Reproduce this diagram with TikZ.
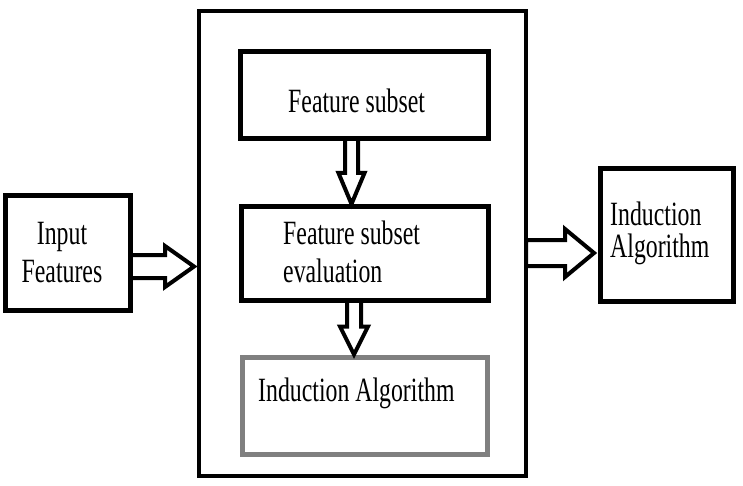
\documentclass[tikz,border=0pt]{standalone}
\usepackage{fontspec}
\usepackage{tikz}
\usetikzlibrary{calc}
\usetikzlibrary{positioning}
\newfontfamily\boxfont[FakeStretch=0.7]{Liberation Serif}
\definecolor{boxgray}{RGB}{128,128,128}

% hollow block arrow: start, tip, shaft half width, head half width, head length
\newcommand{\fatarrow}[5]{%
	\coordinate (hb) at ($(#2)!#5!(#1)$);
	\draw[line width=4pt] ($(#1)!#3!90:(#2)$) -- ($(hb)!#3!90:(#2)$) -- ($(hb)!#4!90:(#2)$) -- (#2)
		-- ($(hb)!#4!-90:(#2)$) -- ($(hb)!#3!-90:(#2)$) -- ($(#1)!#3!-90:(#2)$) -- cycle;
}

\begin{document}
\begin{tikzpicture}[x=1pt,y=-1pt,
		box/.style={draw, line width=5pt, outer sep=0pt, inner sep=0pt},
		lbl/.style={font=\boxfont\fontsize{34}{38}\selectfont, inner sep=0pt}]
		\useasboundingbox (0,0) rectangle (743,486);
		
		% outer frame (selection stage)
		\node[box, line width=4.5pt, minimum width=327pt, minimum height=465pt] (frame) at (362.5,243.5) {};
		
		% boxes
		\node[box, minimum width=125pt, minimum height=114pt] (input) at (67.5,253) {};
		\node[box, minimum width=248pt, minimum height=87pt] (subset) at (364,95.5) {};
		\node[box, minimum width=247pt, minimum height=93pt] (eval) at (364.5,253.5) {};
		\node[box, draw=boxgray, minimum width=245pt, minimum height=97pt] (inner) at (364.5,406) {};
		\node[box, minimum width=133pt, minimum height=132pt] (induct) at (666.5,235) {};
		
		% texts (base anchor sits on the last line)
		\node[lbl, align=center, anchor=base] (tinput) at (62,282) {Input\\Features};
		\node[lbl, anchor=base west] (tsubset) at (288,113) {Feature subset};
		\node[lbl, align=left, anchor=base west] (teval) at (283,282) {Feature subset\\evaluation};
		\node[lbl, anchor=base west] (tinner) at (258,401) {Induction Algorithm};
		\node[lbl, align=left, anchor=base west, font=\boxfont\fontsize{34}{32}\selectfont] (tinduct) at (610,257) {Induction\\Algorithm};
		
		% arrow rows and columns
		\coordinate (row1) at (0,266.5);
		\coordinate (row2) at (0,253);
		\coordinate (col1) at (351.5,0);
		\coordinate (col2) at (354,0);
		\coordinate (s1) at (input.east |- row1);
		\coordinate (e1) at ($(frame.west |- row1)+(-5,0)$);
		\coordinate (s2) at (frame.east |- row2);
		\coordinate (e2) at ($(induct.west |- row2)+(-6,0)$);
		\coordinate (s3) at (col1 |- subset.south);
		\coordinate (e3) at ($(col1 |- eval.north)+(0,-3)$);
		\coordinate (s4) at (col2 |- eval.south);
		\coordinate (e4) at ($(col2 |- inner.north)+(0,-3)$);
		
		% block arrows
		\fatarrow{s1}{e1}{11.5pt}{20.5pt}{29pt}
		\fatarrow{s2}{e2}{13pt}{24pt}{29pt}
		\fatarrow{s3}{e3}{6.5pt}{13pt}{31pt}
		\fatarrow{s4}{e4}{7pt}{14pt}{28pt}
	\end{tikzpicture}
\end{document}
